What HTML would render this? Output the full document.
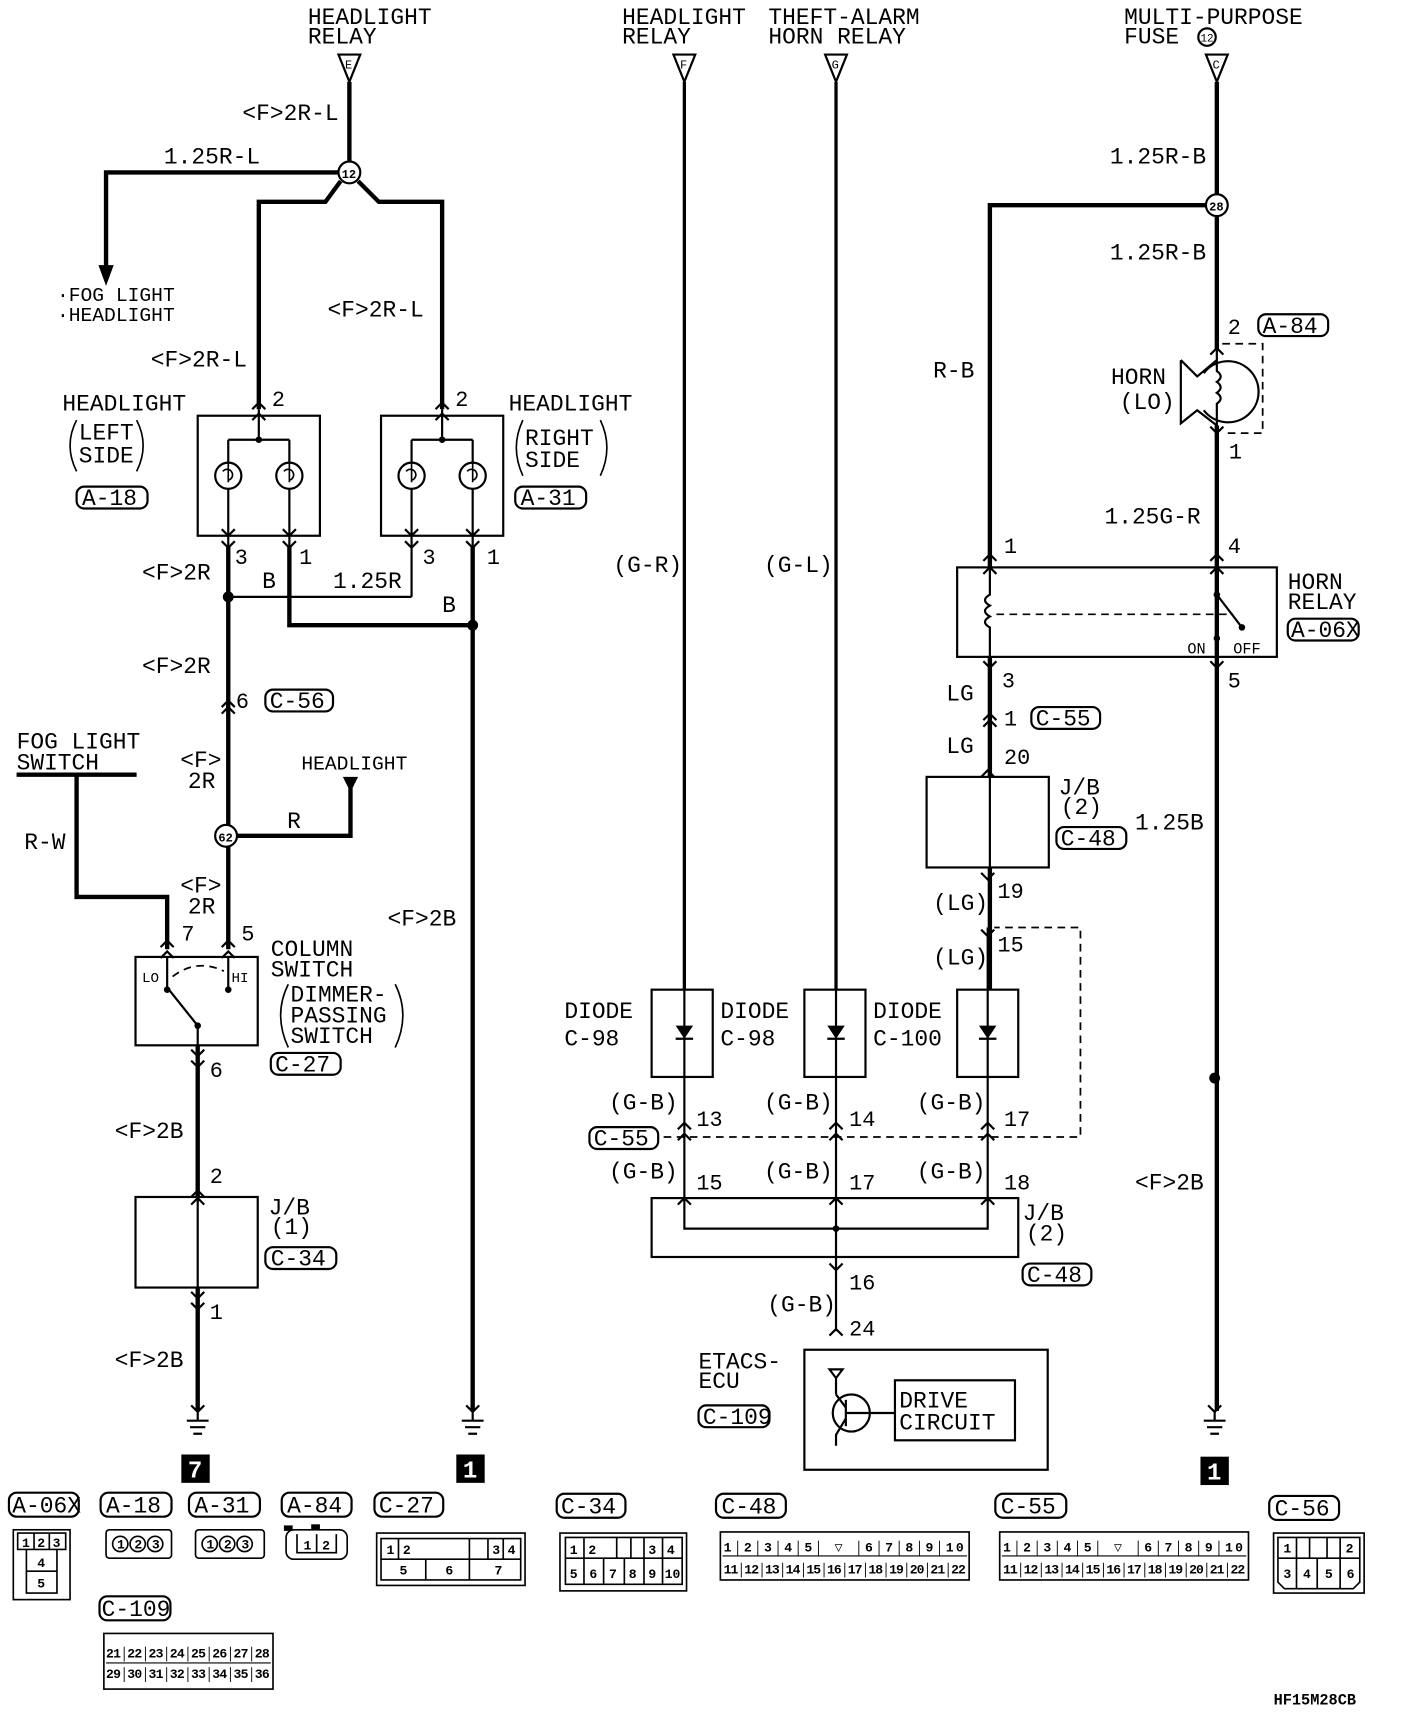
<!DOCTYPE html>
<html><head><meta charset="utf-8"><style>
html,body{margin:0;padding:0;background:#fff}
svg{display:block}
text{font-family:"Liberation Mono",monospace;fill:#000}
.t{font-size:21px}
.s{font-size:18px}
.p{font-size:20px}
.c{font-size:12px;font-weight:bold}
.w{stroke:#000;fill:none;stroke-width:4}
.n{stroke:#000;fill:none;stroke-width:2}
.d{stroke:#000;fill:none;stroke-width:1.6;stroke-dasharray:7 5}
</style></head><body>
<svg width="1408" height="1712" viewBox="0 0 1290 1569" xmlns="http://www.w3.org/2000/svg">
<rect width="1290" height="1569" fill="#fff"/>
<!-- top labels -->
<text class="t" x="282" y="22">HEADLIGHT</text><text class="t" x="282" y="40">RELAY</text>
<text class="t" x="570" y="22">HEADLIGHT</text><text class="t" x="570" y="40">RELAY</text>
<text class="t" x="704" y="22">THEFT-ALARM</text><text class="t" x="704" y="40">HORN RELAY</text>
<text class="t" x="1030" y="22">MULTI-PURPOSE</text><text class="t" x="1030" y="40">FUSE</text>
<circle cx="1106" cy="34" r="8" class="n"/><text x="1100" y="38" style="font-size:10px">12</text>
<g class="n">
<path d="M310 50 L330 50 L320 75 Z"/><path d="M617 50 L637 50 L627 75 Z"/><path d="M756 50 L776 50 L766 75 Z"/><path d="M1105 50 L1125 50 L1115 75 Z"/>
</g>
<text x="316" y="63" style="font-size:11px">E</text><text x="623" y="63" style="font-size:11px">F</text><text x="762" y="63" style="font-size:11px">G</text><text x="1111" y="63" style="font-size:11px">C</text>

<!-- left top wiring -->
<path class="w" d="M320 75 V148"/>
<text class="t" x="222" y="110">&lt;F&gt;2R-L</text>
<path class="w" d="M310 158 H97 V245"/>
<path d="M90 243 L104 243 L97 262 Z"/>
<text class="t" x="150" y="150">1.25R-L</text>
<text class="s" x="52" y="276">·FOG LIGHT</text><text class="s" x="52" y="294">·HEADLIGHT</text>
<circle cx="320" cy="158" r="10" class="n" style="fill:#fff"/><text x="313" y="163" style="font-size:11px;font-weight:bold">12</text>
<path class="w" d="M312 166 L298 185 H237 V375"/>
<path class="w" d="M328 166 L347 185 H405 V375"/>
<text class="t" x="300" y="290">&lt;F&gt;2R-L</text>
<text class="t" x="138" y="336">&lt;F&gt;2R-L</text>
<text class="p" x="249" y="372">2</text><text class="p" x="417" y="372">2</text>
<!-- headlight boxes -->
<rect x="181" y="381" width="112" height="110" class="n"/>
<rect x="349" y="381" width="112" height="110" class="n"/>
<g class="n">
<path d="M237 375 V403 M209 403 H265 M209 403 V424 M265 403 V424 M209 448 V520 M265 448 V520"/>
<circle cx="209" cy="436" r="12"/><circle cx="265" cy="436" r="12"/>
<path d="M405 375 V403 M377 403 H433 M377 403 V424 M433 403 V424 M377 448 V547 M433 448 V500"/>
<circle cx="377" cy="436" r="12"/><circle cx="433" cy="436" r="12"/>
<path d="M209 424 V442 M204 432 A5 5 0 1 1 209 440 M265 424 V442 M260 432 A5 5 0 1 1 265 440 M377 424 V442 M372 432 A5 5 0 1 1 377 440 M433 424 V442 M428 432 A5 5 0 1 1 433 440" style="stroke-width:1.5"/>
<path d="M231 375 L237 369 L243 375 M231 385 L237 379 L243 385 M399 375 L405 369 L411 375 M399 385 L405 379 L411 385"/>
<path d="M203 485 L209 491 L215 485 M259 485 L265 491 L271 485 M371 485 L377 491 L383 485 M427 485 L433 491 L439 485"/>
<path d="M203 496 L209 502 L215 496 M259 496 L265 502 L271 496 M371 496 L377 502 L383 496 M427 496 L433 502 L439 496"/>
</g>
<circle cx="237" cy="403" r="3"/><circle cx="405" cy="403" r="3"/>
<text class="t" x="57" y="376">HEADLIGHT</text><text class="t" x="72" y="403">LEFT</text><text class="t" x="72" y="424">SIDE</text>
<path class="n" style="stroke-width:1.5" d="M70 385 Q58 408 70 432 M125 385 Q137 408 125 432"/>
<text class="t" x="466" y="376">HEADLIGHT</text><text class="t" x="481" y="408">RIGHT</text><text class="t" x="481" y="428">SIDE</text>
<path class="n" style="stroke-width:1.5" d="M479 385 Q467 410 479 436 M550 385 Q562 410 550 436"/>
<rect x="70" y="446" width="65" height="20" rx="7" class="n"/><text class="t" x="75" y="463">A-18</text>
<rect x="472" y="446" width="65" height="20" rx="7" class="n"/><text class="t" x="477" y="463">A-31</text>
<text class="p" x="215" y="517">3</text><text class="p" x="274" y="517">1</text><text class="p" x="387" y="517">3</text><text class="p" x="446" y="517">1</text>
<!-- left lower wiring -->
<path class="w" d="M209 500 V870"/>
<path class="w" d="M265 500 V573 H433"/>
<path class="n" d="M209 547 H377"/>
<path class="w" d="M433 500 V1293"/>
<circle cx="209" cy="547" r="5"/><circle cx="433" cy="573" r="5"/>
<text class="t" x="130" y="531">&lt;F&gt;2R</text><text class="t" x="240" y="539">B</text><text class="t" x="305" y="539">1.25R</text><text class="t" x="405" y="561">B</text>
<text class="t" x="130" y="617">&lt;F&gt;2R</text>
<path class="n" d="M203 648 L209 642 L215 648 M203 654 L209 648 L215 654"/>
<text class="p" x="216" y="649">6</text>
<rect x="243" y="632" width="62" height="20" rx="7" class="n"/><text class="t" x="247" y="649">C-56</text>
<text class="t" x="165" y="703">&lt;F&gt;</text><text class="t" x="172" y="722">2R</text>
<circle cx="207" cy="766" r="10" class="n" style="fill:#fff"/><text x="200" y="771" style="font-size:11px;font-weight:bold">62</text>
<path class="w" d="M217 766 H321 V718"/><path d="M314 712 L328 712 L321 726 Z"/>
<text class="s" x="276" y="705">HEADLIGHT</text><text class="t" x="263" y="759">R</text>
<text class="t" x="165" y="818">&lt;F&gt;</text><text class="t" x="172" y="837">2R</text>
<text class="t" x="15" y="686">FOG LIGHT</text><text class="t" x="15" y="705">SWITCH</text>
<path class="w" d="M15 710 H125"/>
<path class="w" d="M70 710 V822 H153 V870"/>
<text class="t" x="22" y="778">R-W</text>
<text class="p" x="166" y="862">7</text><text class="p" x="221" y="862">5</text>
<path class="n" d="M147 868 L153 862 L159 868 M203 868 L209 862 L215 868 M147 878 L153 872 L159 878 M203 878 L209 872 L215 878"/>
<rect x="124" y="877" width="112" height="81" class="n"/>
<text x="130" y="900" style="font-size:13px">LO</text><text x="212" y="900" style="font-size:13px">HI</text>
<path class="n" d="M153 877 V905 L181 940 V958 M209 877 V905"/><path class="d" d="M158 895 Q180 878 205 890"/>
<circle cx="153" cy="907" r="3"/><circle cx="209" cy="907" r="3"/><circle cx="181" cy="940" r="3"/>
<text class="t" x="248" y="876">COLUMN</text><text class="t" x="248" y="895">SWITCH</text>
<text class="t" x="266" y="918">DIMMER-</text><text class="t" x="266" y="937">PASSING</text><text class="t" x="266" y="956">SWITCH</text>
<path class="n" style="stroke-width:1.5" d="M264 902 Q250 930 264 960 M362 902 Q376 930 362 960"/>
<rect x="248" y="965" width="64" height="20" rx="7" class="n"/><text class="t" x="252" y="982">C-27</text>
<path class="w" d="M181 958 V1097"/>
<path class="n" d="M175 962 L181 968 L187 962 M175 972 L181 978 L187 972"/>
<text class="p" x="192" y="987">6</text><text class="t" x="105" y="1043">&lt;F&gt;2B</text><text class="p" x="192" y="1084">2</text>
<path class="n" d="M175 1097 L181 1091 L187 1097 M175 1104 L181 1098 L187 1104"/>
<rect x="124" y="1097" width="112" height="83" class="n"/><path class="n" d="M181 1097 V1180"/>
<text class="t" x="246" y="1113">J/B</text><text class="t" x="248" y="1131">(1)</text>
<rect x="243" y="1143" width="65" height="20" rx="7" class="n"/><text class="t" x="248" y="1160">C-34</text>
<path class="w" d="M181 1180 V1293"/>
<path class="n" d="M175 1184 L181 1190 L187 1184 M175 1194 L181 1200 L187 1194"/>
<text class="p" x="192" y="1209">1</text><text class="t" x="105" y="1253">&lt;F&gt;2B</text>
<text class="t" x="355" y="848">&lt;F&gt;2B</text>
<!-- grounds -->
<g class="n">
<path d="M175 1288 L181 1294 L187 1288 M171 1302 H191 M174 1308 H188 M177 1314 H185 M181 1294 V1302"/>
<path d="M427 1288 L433 1294 L439 1288 M423 1302 H443 M426 1308 H440 M429 1314 H437 M433 1294 V1302"/>
<path d="M1107 1288 L1113 1294 L1119 1288 M1103 1302 H1123 M1106 1308 H1120 M1109 1314 H1117 M1113 1294 V1302"/>
</g>
<rect x="166" y="1333" width="26" height="26"/><text x="172" y="1354" style="font-size:22px;font-weight:bold;fill:#fff">7</text>
<rect x="418" y="1333" width="26" height="26"/><text x="424" y="1354" style="font-size:22px;font-weight:bold;fill:#fff">1</text>
<rect x="1100" y="1335" width="26" height="26"/><text x="1106" y="1356" style="font-size:22px;font-weight:bold;fill:#fff">1</text>

<!-- middle -->
<path class="w" style="stroke-width:3" d="M627 75 V907 M766 75 V907"/>
<text class="t" x="562" y="524">(G-R)</text><text class="t" x="700" y="524">(G-L)</text>
<path class="d" d="M560 1042 H990 V850 H911"/>
<g class="n">
<rect x="597" y="907" width="56" height="80"/><rect x="737" y="907" width="56" height="80"/><rect x="877" y="907" width="56" height="80"/>
<path d="M627 907 V1098 M766 907 V1098 M905 850 V1098"/>
<path d="M621 1035 L627 1029 L633 1035 M621 1045 L627 1039 L633 1045 M760 1035 L766 1029 L772 1035 M760 1045 L766 1039 L772 1045 M899 1035 L905 1029 L911 1035 M899 1045 L905 1039 L911 1045"/>
<path d="M621 1104 L627 1098 L633 1104 M760 1104 L766 1098 L772 1104 M899 1104 L905 1098 L911 1104"/>
<path d="M899 852 L905 858 L911 852 M899 800 L905 806 L911 800 M899 712 L905 706 L911 712"/>
<rect x="597" y="1098" width="336" height="54"/>
<path d="M627 1098 V1126 H905 V1098 M766 1098 V1220"/>
<path d="M760 1158 L766 1164 L772 1158 M760 1224 L766 1218 L772 1224"/>
</g>
<path d="M619 940 H635 L627 952 Z M758 940 H774 L766 952 Z M897 940 H913 L905 952 Z"/>
<path class="n" d="M619 952 H635 M758 952 H774 M897 952 H913"/>
<circle cx="766" cy="1126" r="3"/>
<text class="t" x="517" y="933">DIODE</text><text class="t" x="517" y="958">C-98</text>
<text class="t" x="660" y="933">DIODE</text><text class="t" x="660" y="958">C-98</text>
<text class="t" x="800" y="933">DIODE</text><text class="t" x="800" y="958">C-100</text>
<text class="t" x="558" y="1017">(G-B)</text><text class="p" x="638" y="1032">13</text>
<text class="t" x="700" y="1017">(G-B)</text><text class="p" x="778" y="1032">14</text>
<text class="t" x="840" y="1017">(G-B)</text><text class="p" x="920" y="1032">17</text>
<rect x="540" y="1033" width="63" height="20" rx="7" class="n" style="fill:#fff"/><text class="t" x="544" y="1050">C-55</text>
<text class="t" x="558" y="1080">(G-B)</text><text class="p" x="638" y="1090">15</text>
<text class="t" x="700" y="1080">(G-B)</text><text class="p" x="778" y="1090">17</text>
<text class="t" x="840" y="1080">(G-B)</text><text class="p" x="920" y="1090">18</text>
<text class="t" x="937" y="1118">J/B</text><text class="t" x="940" y="1137">(2)</text>
<rect x="937" y="1158" width="63" height="20" rx="7" class="n"/><text class="t" x="941" y="1175">C-48</text>
<text class="p" x="778" y="1182">16</text><text class="t" x="703" y="1202">(G-B)</text><text class="p" x="778" y="1224">24</text>
<rect x="737" y="1237" width="223" height="110" class="n"/>
<text class="t" x="640" y="1254">ETACS-</text><text class="t" x="640" y="1272">ECU</text>
<rect x="640" y="1288" width="65" height="20" rx="7" class="n"/><text class="t" x="644" y="1305">C-109</text>
<g class="n">
<path d="M760 1255 H772 L766 1263 Z M766 1263 V1278"/>
<circle cx="780" cy="1295" r="17"/><path d="M775 1283 V1307 M775 1290 L766 1278 M775 1300 L766 1315 V1325 M775 1295 H820"/>
<rect x="820" y="1265" width="110" height="55"/>
</g>
<text class="t" x="824" y="1290">DRIVE</text><text class="t" x="824" y="1310">CIRCUIT</text>

<!-- right -->
<path class="w" d="M1115 75 V178 M1115 198 V320 M1115 390 V1293 M1105 188 H907 V520"/>
<circle cx="1115" cy="188" r="10" class="n" style="fill:#fff"/><text x="1108" y="193" style="font-size:11px;font-weight:bold">28</text>
<text class="t" x="1017" y="150">1.25R-B</text><text class="t" x="1017" y="238">1.25R-B</text>
<text class="p" x="1125" y="306">2</text>
<rect x="1153" y="288" width="64" height="20" rx="7" class="n"/><text class="t" x="1157" y="305">A-84</text>
<path class="d" d="M1120 315 H1157 V397 H1120"/>
<g class="n">
<path d="M1103 342 A28 28 0 1 1 1103 376"/>
<path d="M1082 330 L1097 345 L1115 330 M1082 330 V388 L1097 376 L1115 390"/>
<path d="M1115 320 V340 Q1122 345 1115 350 Q1122 355 1115 360 Q1122 365 1115 370 V390"/>
<path d="M1109 325 L1115 319 L1121 325 M1109 391 L1115 397 L1121 391"/>
</g>
<text class="t" x="1018" y="352">HORN</text><text class="t" x="1026" y="375">(LO)</text>
<text class="p" x="1126" y="420">1</text>
<text class="t" x="855" y="346">R-B</text>
<text class="t" x="1012" y="480">1.25G-R</text>
<text class="p" x="920" y="507">1</text><text class="p" x="1125" y="507">4</text>
<rect x="877" y="520" width="293" height="82" class="n"/>
<g class="n">
<path d="M901 514 L907 508 L913 514 M1109 514 L1115 508 L1121 514 M901 526 L907 520 L913 526 M1109 526 L1115 520 L1121 526"/>
<path d="M907 520 V545 Q898 550 907 555 Q898 560 907 565 Q898 570 907 575 V602"/>
<path d="M1115 520 V545 L1138 575 M1115 602 V585"/>
<path d="M901 606 L907 612 L913 606 M1109 606 L1115 612 L1121 606"/>
</g>
<circle cx="1115" cy="545" r="3"/><circle cx="1138" cy="575" r="3"/><circle cx="1115" cy="585" r="3"/>
<path class="d" d="M913 563 H1130"/>
<text x="1088" y="599" style="font-size:14px">ON</text><text x="1130" y="599" style="font-size:14px">OFF</text>
<text class="t" x="1180" y="540">HORN</text><text class="t" x="1180" y="558">RELAY</text>
<rect x="1180" y="567" width="65" height="20" rx="7" class="n"/><text class="t" x="1183" y="584">A-06X</text>
<path class="w" d="M907 602 V712 M907 795 V907"/>
<text class="p" x="918" y="630">3</text><text class="p" x="1125" y="630">5</text>
<text class="t" x="867" y="642">LG</text>
<path class="n" d="M901 660 L907 654 L913 660 M901 666 L907 660 L913 666"/>
<text class="p" x="920" y="665">1</text>
<rect x="945" y="648" width="63" height="20" rx="7" class="n"/><text class="t" x="949" y="665">C-55</text>
<text class="t" x="867" y="690">LG</text><text class="p" x="920" y="700">20</text>
<rect x="849" y="712" width="112" height="83" class="n"/><path class="n" d="M907 712 V795"/>
<text class="t" x="970" y="728">J/B</text><text class="t" x="972" y="746">(2)</text>
<rect x="968" y="758" width="64" height="20" rx="7" class="n"/><text class="t" x="972" y="775">C-48</text>
<text class="t" x="1040" y="760">1.25B</text>
<text class="p" x="914" y="823">19</text><text class="t" x="855" y="834">(LG)</text>
<text class="p" x="914" y="872">15</text><text class="t" x="855" y="884">(LG)</text>
<circle cx="1113" cy="988" r="5"/>
<text class="t" x="1040" y="1090">&lt;F&gt;2B</text>

<!-- connector labels -->
<g class="n">
<rect x="8" y="1368" width="64" height="22" rx="7"/><rect x="92" y="1368" width="65" height="22" rx="7"/>
<rect x="173" y="1368" width="65" height="22" rx="7"/><rect x="258" y="1368" width="64" height="22" rx="7"/>
<rect x="343" y="1368" width="63" height="22" rx="7"/><rect x="510" y="1369" width="63" height="22" rx="7"/>
<rect x="656" y="1369" width="64" height="22" rx="7"/><rect x="912" y="1369" width="65" height="22" rx="7"/>
<rect x="1163" y="1371" width="64" height="22" rx="7"/><rect x="91" y="1463" width="65" height="22" rx="7"/>
</g>
<text class="t" x="11" y="1386">A-06X</text><text class="t" x="97" y="1386">A-18</text><text class="t" x="178" y="1386">A-31</text>
<text class="t" x="263" y="1386">A-84</text><text class="t" x="347" y="1386">C-27</text><text class="t" x="514" y="1387">C-34</text>
<text class="t" x="661" y="1387">C-48</text><text class="t" x="917" y="1387">C-55</text><text class="t" x="1168" y="1389">C-56</text>
<text class="t" x="93" y="1481">C-109</text>
<!-- connector icons -->
<g class="n" style="stroke-width:1.5">
<rect x="12" y="1402" width="52" height="64"/><path d="M16 1405 H60 V1420 H16 Z M31 1405 V1420 M45 1405 V1420 M24 1420 V1460 H52 V1420 M24 1440 H52"/>
<rect x="97" y="1402" width="60" height="26" rx="3"/><circle cx="110" cy="1415" r="7"/><circle cx="126" cy="1415" r="7"/><circle cx="142" cy="1415" r="7"/>
<rect x="179" y="1402" width="63" height="26" rx="3"/><circle cx="192" cy="1415" r="7"/><circle cx="208" cy="1415" r="7"/><circle cx="224" cy="1415" r="7"/>
<rect x="262" y="1402" width="56" height="27" rx="7"/><path d="M272 1406 V1423 H308 V1406 M290 1406 V1423"/>
<rect x="345" y="1405" width="136" height="48"/><path d="M349 1410 H477 V1448 H349 Z M349 1429 H477 M365 1410 V1429 M430 1410 V1429 M447 1410 V1429 M461 1410 V1429 M390 1429 V1448 M430 1429 V1448"/>
<rect x="513" y="1405" width="116" height="53"/><path d="M518 1409 H625 V1452 H518 Z M518 1428 H625 M535 1409 V1452 M553 1428 V1452 M565 1409 V1428 M578 1409 V1428 M572 1428 V1452 M590 1409 V1452 M607 1409 V1452"/>
<rect x="660" y="1404" width="228" height="44"/><rect x="916" y="1404" width="228" height="44"/>
<rect x="1167" y="1405" width="83" height="55"/><path d="M1171 1409 H1246 V1450 L1240 1456 H1177 L1171 1450 Z M1171 1428 H1246 M1188 1409 V1456 M1207 1428 V1456 M1228 1409 V1456 M1200 1409 V1428 M1216 1409 V1428"/>
<rect x="95" y="1497" width="155" height="51"/>
</g>
<rect x="260" y="1398" width="8" height="5"/><rect x="285" y="1397" width="8" height="5"/>
<text class="c" x="20" y="1418">1</text><text class="c" x="34" y="1418">2</text><text class="c" x="48" y="1418">3</text><text class="c" x="34" y="1436">4</text><text class="c" x="34" y="1455">5</text>
<text class="c" x="107" y="1419">1</text><text class="c" x="123" y="1419">2</text><text class="c" x="139" y="1419">3</text>
<text class="c" x="189" y="1419">1</text><text class="c" x="205" y="1419">2</text><text class="c" x="221" y="1419">3</text>
<text class="c" x="278" y="1420">1</text><text class="c" x="295" y="1420">2</text>
<text class="c" x="354" y="1424">1</text><text class="c" x="369" y="1424">2</text><text class="c" x="451" y="1424">3</text><text class="c" x="465" y="1424">4</text>
<text class="c" x="366" y="1443">5</text><text class="c" x="408" y="1443">6</text><text class="c" x="453" y="1443">7</text>
<text class="c" x="522" y="1424">1</text><text class="c" x="539" y="1424">2</text><text class="c" x="594" y="1424">3</text><text class="c" x="611" y="1424">4</text>
<text class="c" x="522" y="1446">5</text><text class="c" x="540" y="1446">6</text><text class="c" x="558" y="1446">7</text><text class="c" x="576" y="1446">8</text><text class="c" x="594" y="1446">9</text><text class="c" x="609" y="1446">10</text>
<text class="c" x="1176" y="1423">1</text><text class="c" x="1233" y="1423">2</text>
<text class="c" x="1176" y="1446">3</text><text class="c" x="1194" y="1446">4</text><text class="c" x="1214" y="1446">5</text><text class="c" x="1234" y="1446">6</text>
<g style="font-size:11px">
<text class="c" x="663" y="1422" textLength="220" lengthAdjust="spacing">1│2│3│4│5│ ▽ │6│7│8│9│10</text>
<text class="c" x="663" y="1442" textLength="222" lengthAdjust="spacing">11│12│13│14│15│16│17│18│19│20│21│22</text>
<text class="c" x="919" y="1422" textLength="220" lengthAdjust="spacing">1│2│3│4│5│ ▽ │6│7│8│9│10</text>
<text class="c" x="919" y="1442" textLength="222" lengthAdjust="spacing">11│12│13│14│15│16│17│18│19│20│21│22</text>
<text class="c" x="97" y="1519" textLength="150" lengthAdjust="spacing">21│22│23│24│25│26│27│28</text>
<text class="c" x="97" y="1538" textLength="150" lengthAdjust="spacing">29│30│31│32│33│34│35│36</text>
</g>
<path class="n" style="stroke-width:1" d="M662 1426 H886 M918 1426 H1142 M97 1524 H248"/>
<text x="1167" y="1562" style="font-size:14px;font-weight:bold">HF15M28CB</text>
</svg>
</body></html>
